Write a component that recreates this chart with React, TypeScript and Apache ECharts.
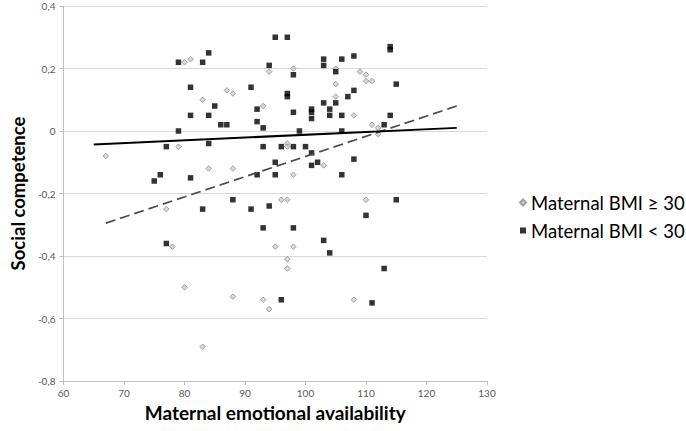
import React, { useEffect, useRef } from "react";
import * as echarts from "echarts";

const xTicks = { min: 60, max: 130, interval: 10 };
const yTicks = { min: -0.8, max: 0.4, interval: 0.2 };

const seriesNames = ["Maternal BMI \u2265 30", "Maternal BMI < 30"];

// Maternal BMI >= 30 (grey diamonds): [emotional availability, social competence]
const bmiHigh: number[][] = [
  [80, 0.22], [81, 0.23], [83, 0.10], [87, 0.13], [88, 0.12], [93, 0.08],
  [94, 0.19], [98, 0.20], [67, -0.08], [79, -0.05], [84, -0.12], [88, -0.12],
  [97, -0.04], [97, -0.05], [98, -0.14], [77, -0.25], [96, -0.22], [97, -0.22],
  [103, -0.11], [105, 0.15], [105, 0.11], [105, 0.20], [108, 0.05], [109, 0.19],
  [110, 0.18], [110, 0.16], [111, 0.16], [111, 0.02], [112, 0.01], [112, -0.01],
  [110, -0.22], [78, -0.37], [95, -0.37], [98, -0.37], [97, -0.41], [97, -0.44],
  [80, -0.50], [88, -0.53], [93, -0.54], [94, -0.57], [83, -0.69], [108, -0.54],
];

// Maternal BMI < 30 (black squares)
const bmiLow: number[][] = [
  [79, 0.22], [83, 0.22], [84, 0.25], [81, 0.14], [85, 0.08], [81, 0.05],
  [84, 0.05], [86, 0.02], [87, 0.02], [79, 0.0], [91, 0.14], [92, 0.07],
  [92, 0.03], [93, 0.01], [95, 0.30], [97, 0.30], [94, 0.21], [98, 0.18],
  [97, 0.12], [97, 0.11], [98, 0.06], [77, -0.05], [84, -0.04], [93, -0.05],
  [96, -0.05], [98, -0.05], [95, -0.10], [76, -0.14], [75, -0.16], [81, -0.15],
  [92, -0.14], [95, -0.14], [88, -0.22], [83, -0.25], [91, -0.25], [94, -0.24],
  [99, 0.0], [100, -0.05], [101, -0.07], [101, -0.11], [102, -0.10], [101, 0.07],
  [101, 0.06], [101, 0.04], [103, 0.23], [103, 0.21], [103, 0.09], [104, 0.07],
  [104, 0.05], [105, 0.19], [105, 0.09], [106, 0.23], [107, 0.11], [106, 0.05],
  [108, 0.24], [108, 0.13], [106, 0.0], [108, -0.09], [106, -0.14], [114, 0.27],
  [114, 0.26], [115, 0.15], [114, 0.05], [113, 0.02], [110, -0.27], [115, -0.22],
  [93, -0.31], [98, -0.31], [77, -0.36], [96, -0.54], [103, -0.35], [104, -0.39],
  [113, -0.44], [111, -0.55],
];

// Linear trend lines (endpoints)
const trendHigh: number[][] = [[67, -0.295], [125, 0.08]];
const trendLow: number[][] = [[65, -0.043], [125, 0.01]];

const FONT = "Lato, 'Open Sans', sans-serif";

export default function App() {
  const ref = useRef<HTMLDivElement>(null);
  useEffect(() => {
    document.body.style.margin = "0";
    if (!ref.current) return;
    const chart = echarts.init(ref.current, null, { renderer: "svg" });
    chart.setOption({
      animation: false,
      backgroundColor: "#ffffff",
      textStyle: { fontFamily: FONT },
      grid: { left: 53, top: 6, width: 434, height: 375, containLabel: false },
      legend: {
        data: seriesNames,
        orient: "vertical",
        left: 514,
        top: 188,
        itemWidth: 6,
        itemHeight: 6,
        itemGap: 9,
        textStyle: { fontFamily: FONT, fontSize: 18.5, color: "#000" },
        selectedMode: false,
      },
      xAxis: {
        type: "value",
        min: xTicks.min,
        max: xTicks.max,
        interval: xTicks.interval,
        name: "Maternal emotional availability",
        nameLocation: "middle",
        nameGap: 22,
        nameTextStyle: { fontFamily: FONT, fontSize: 19, fontWeight: "bold", color: "#000" },
        axisLine: { show: true, onZero: false, lineStyle: { color: "#bfbfbf" } },
        axisTick: { show: true, length: 4, lineStyle: { color: "#bfbfbf" } },
        axisLabel: { fontFamily: FONT, fontSize: 10, color: "#595959", margin: 7 },
        splitLine: { show: false },
      },
      yAxis: {
        type: "value",
        min: yTicks.min,
        max: yTicks.max,
        interval: yTicks.interval,
        name: "Social competence",
        nameLocation: "middle",
        nameGap: 36,
        nameTextStyle: { fontFamily: FONT, fontSize: 18.5, fontWeight: "bold", color: "#000" },
        axisLine: { show: true, lineStyle: { color: "#bfbfbf" } },
        axisTick: { show: true, length: 4, lineStyle: { color: "#bfbfbf" } },
        axisLabel: {
          fontFamily: FONT,
          fontSize: 10,
          color: "#595959",
          margin: 8,
          formatter: (v: number) => {
            const r = Math.round(v * 10) / 10;
            return r === 0 ? "0" : String(r).replace(".", ",");
          },
        },
        splitLine: { show: true, lineStyle: { color: "#d9d9d9", width: 1 } },
      },
      series: [
        {
          name: seriesNames[0],
          type: "scatter",
          data: bmiHigh,
          symbol: "diamond",
          symbolSize: 5.5,
          itemStyle: { color: "#d0d0d0", borderColor: "#8c8c8c", borderWidth: 1 },
          z: 2,
        },
        {
          name: seriesNames[1],
          type: "scatter",
          data: bmiLow,
          symbol: "rect",
          symbolSize: 5.5,
          itemStyle: { color: "#000000" },
          z: 3,
        },
        {
          name: "trendHigh",
          type: "line",
          data: trendHigh,
          symbol: "none",
          lineStyle: { color: "#4d4d4d", width: 1.75, type: [10, 5] },
          z: 4,
        },
        {
          name: "trendLow",
          type: "line",
          data: trendLow,
          symbol: "none",
          lineStyle: { color: "#000000", width: 2 },
          z: 4,
        },
      ],
    });
    return () => chart.dispose();
  }, []);
  return <div ref={ref} style={{ width: 686, height: 431 }} />;
}
